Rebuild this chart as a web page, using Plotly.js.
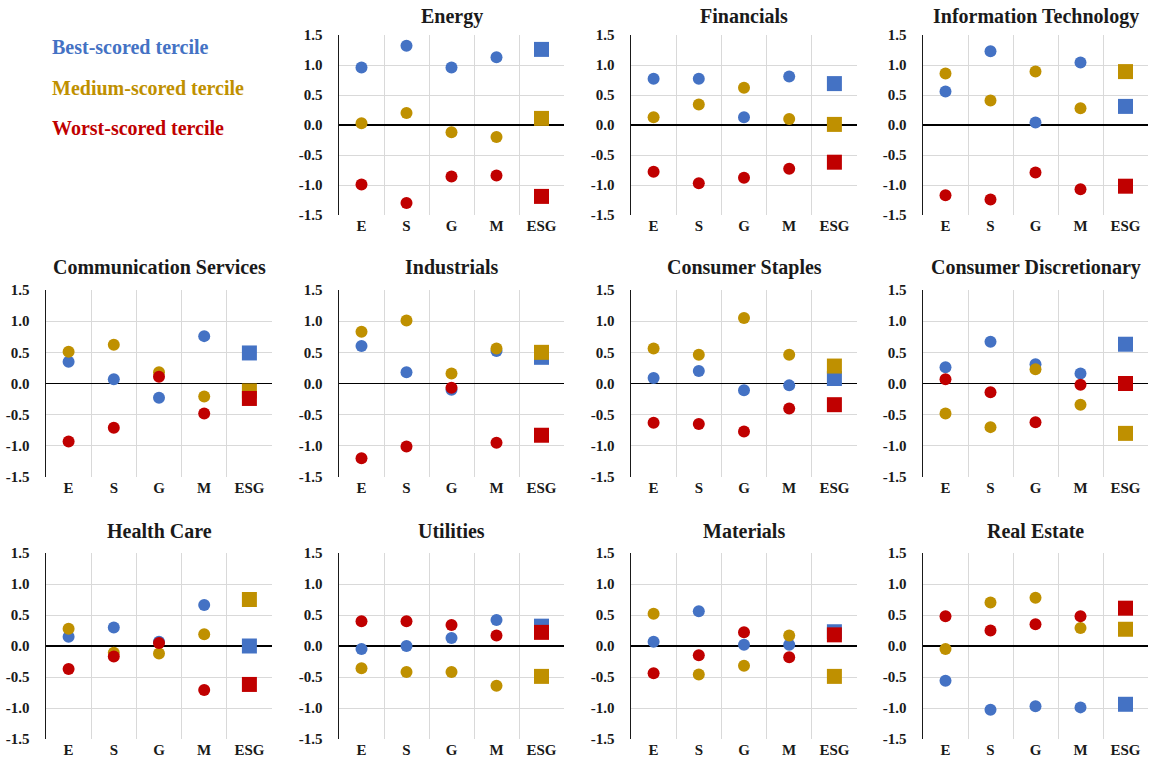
<!DOCTYPE html>
<html>
<head>
<meta charset="utf-8">
<script src="https://cdn.plot.ly/plotly-3.0.1.min.js"></script>
<style>html,body{margin:0;padding:0;background:#fff;}#chart{width:1149px;height:765px;}</style>
</head>
<body>
<div id="chart"></div>
<script>
const categories = ['E', 'S', 'G', 'M', 'ESG'];
const sectors = ['Energy', 'Financials', 'Information Technology', 'Communication Services', 'Industrials',
  'Consumer Staples', 'Consumer Discretionary', 'Health Care', 'Utilities', 'Materials', 'Real Estate'];
const seriesNames = ['Best-scored tercile', 'Medium-scored tercile', 'Worst-scored tercile'];
const yTickVals = [-1.5, -1.0, -0.5, 0.0, 0.5, 1.0, 1.5];
const yTickText = ['-1.5', '-1.0', '-0.5', '0.0', '0.5', '1.0', '1.5'];

const bestScored = [
  [0.96, 1.32, 0.96, 1.13, 1.26],
  [0.77, 0.77, 0.13, 0.81, 0.69],
  [0.56, 1.23, 0.04, 1.04, 0.31],
  [0.35, 0.07, -0.23, 0.76, 0.49],
  [0.60, 0.18, -0.10, 0.52, 0.42],
  [0.09, 0.20, -0.11, -0.03, 0.08],
  [0.26, 0.67, 0.31, 0.16, 0.63],
  [0.15, 0.30, 0.07, 0.66, 0.00],
  [-0.05, 0.00, 0.13, 0.42, 0.32],
  [0.07, 0.56, 0.02, 0.02, 0.23],
  [-0.56, -1.03, -0.97, -0.99, -0.94]
];
const mediumScored = [
  [0.03, 0.20, -0.12, -0.20, 0.11],
  [0.13, 0.34, 0.62, 0.10, 0.01],
  [0.86, 0.41, 0.89, 0.28, 0.89],
  [0.51, 0.62, 0.18, -0.21, -0.12],
  [0.83, 1.01, 0.16, 0.56, 0.50],
  [0.56, 0.46, 1.05, 0.46, 0.28],
  [-0.48, -0.70, 0.23, -0.34, -0.80],
  [0.28, -0.11, -0.12, 0.19, 0.75],
  [-0.36, -0.42, -0.42, -0.64, -0.49],
  [0.52, -0.46, -0.32, 0.17, -0.49],
  [-0.05, 0.70, 0.78, 0.29, 0.27]
];
const worstScored = [
  [-0.99, -1.30, -0.86, -0.84, -1.19],
  [-0.78, -0.97, -0.88, -0.73, -0.62],
  [-1.17, -1.24, -0.79, -1.07, -1.02],
  [-0.93, -0.71, 0.11, -0.48, -0.24],
  [-1.20, -1.01, -0.07, -0.95, -0.83],
  [-0.63, -0.65, -0.77, -0.40, -0.34],
  [0.07, -0.14, -0.62, -0.02, 0.00],
  [-0.37, -0.17, 0.05, -0.71, -0.62],
  [0.40, 0.40, 0.34, 0.17, 0.22],
  [-0.44, -0.15, 0.22, -0.18, 0.18],
  [0.48, 0.25, 0.35, 0.48, 0.61]
];

const W = 1149, H = 765;
const colors = ['#4472C4', '#BF9000', '#C00000'];
const FONT = 'Liberation Serif, Times New Roman, serif';
const colPx = [[46, 272], [339, 564], [631, 857], [923, 1148]];
const rowPx = [[35, 215], [290, 477], [553, 739]];
const titleY = [16, 267, 531];
const symbols = categories.map(c => c === 'ESG' ? 'square' : 'circle');
const sizes = categories.map(c => c === 'ESG' ? 15 : 12);

const data = [];
const layout = {
  width: W, height: H,
  margin: {l: 0, r: 0, t: 0, b: 0},
  paper_bgcolor: '#fff', plot_bgcolor: '#fff',
  showlegend: false,
  annotations: []
};

const allSeries = [bestScored, mediumScored, worstScored];

sectors.forEach((name, i) => {
  const cell = i + 1;
  const row = Math.floor(cell / 4), col = cell % 4;
  const n = i === 0 ? '' : String(i + 1);
  const xa = 'x' + n, ya = 'y' + n;
  allSeries.forEach((ser, s) => {
    data.push({
      type: 'scatter', mode: 'markers',
      x: categories, y: ser[i],
      xaxis: xa, yaxis: ya,
      name: seriesNames[s],
      marker: {color: colors[s], size: sizes, symbol: symbols, opacity: 1, line: {width: 0}},
      cliponaxis: false
    });
  });
  const [l, r] = colPx[col];
  const [t, b] = rowPx[row];
  layout['xaxis' + n] = {
    domain: [l / W, r / W], anchor: ya,
    type: 'category', categoryorder: 'array', categoryarray: categories,
    range: [-0.5, 4.5],
    tickson: 'boundaries',
    showgrid: true, gridcolor: '#d9d9d9', gridwidth: 1,
    zeroline: false, showline: false,
    ticks: 'outside', ticklen: 12, tickcolor: 'rgba(0,0,0,0)',
    tickfont: {family: FONT, size: 15, weight: 700, color: '#1a1a1a'},
    fixedrange: true
  };
  layout['yaxis' + n] = {
    domain: [1 - b / H, 1 - t / H], anchor: xa,
    range: [-1.5, 1.5],
    tickvals: yTickVals, ticktext: yTickText,
    showgrid: true, gridcolor: '#d9d9d9', gridwidth: 1,
    zeroline: true, zerolinecolor: '#000', zerolinewidth: 1.5,
    showline: true, linecolor: '#1a1a1a', linewidth: 1.5,
    ticks: 'outside', ticklen: 12, tickcolor: 'rgba(0,0,0,0)',
    tickfont: {family: FONT, size: 15, weight: 700, color: '#1a1a1a'},
    fixedrange: true
  };
  layout.annotations.push({
    xref: 'paper', yref: 'paper',
    x: (l + r) / 2 / W, y: 1 - titleY[row] / H,
    xanchor: 'center', yanchor: 'middle',
    text: name, showarrow: false,
    font: {family: FONT, size: 20, weight: 700, color: '#1a1a1a'}
  });
});

const legendY = [47, 88, 128];
seriesNames.forEach((s, k) => {
  layout.annotations.push({
    xref: 'paper', yref: 'paper',
    x: 50 / W, y: 1 - legendY[k] / H,
    xanchor: 'left', yanchor: 'middle',
    text: s, showarrow: false,
    font: {family: FONT, size: 20, weight: 700, color: colors[k]}
  });
});

Plotly.newPlot('chart', data, layout, {displayModeBar: false, staticPlot: true});
</script>
</body>
</html>
